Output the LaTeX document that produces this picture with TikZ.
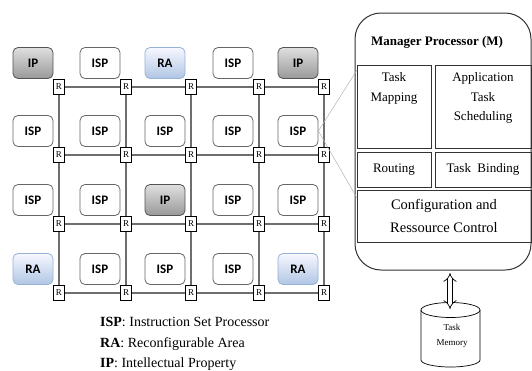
\documentclass[tikz,border=0pt]{standalone}
\usepackage{fontspec}
\setmainfont{Liberation Serif}
\newfontfamily\tilefont{Carlito}
\usetikzlibrary{arrows.meta,backgrounds}
\definecolor{rafill}{RGB}{176,198,228}
\definecolor{raborder}{RGB}{150,178,214}
\definecolor{linkgray}{RGB}{110,110,110}
\begin{document}
\begin{tikzpicture}[x=1pt,y=-1pt,
  tile/.style={rounded corners=5pt, minimum width=40pt, minimum height=31pt, inner sep=0pt,
    font=\tilefont\bfseries\fontsize{13}{15}\selectfont, line width=0.8pt},
  isp/.style={tile, draw=gray!80!black, fill=white},
  ipt/.style={tile, draw=gray!65!black, top color=gray!25, bottom color=gray!80},
  rat/.style={tile, draw=raborder, top color=blue!3, bottom color=rafill},
  router/.style={draw=black, fill=white, minimum width=11pt, minimum height=15pt, inner sep=0pt,
    font=\fontsize{9}{9}\selectfont, line width=0.8pt},
  link/.style={draw=linkgray, line width=1.1pt},
  pane/.style={draw=black!80, line width=0.8pt, inner sep=0pt},
  panetext/.style={font=\fontsize{13}{19.5}\selectfont, align=center, inner sep=0pt},
  zoomline/.style={draw=gray!60, line width=0.5pt},
  legend/.style={font=\fontsize{14}{16}\selectfont, anchor=west, inner sep=0pt}]
\useasboundingbox (0,0) rectangle (532,370);

% routers
\foreach \c [count=\i] in {59,126,191,259,324}{
  \foreach \r [count=\j] in {87,155,224,293}{
    \node[router] (r-\i-\j) at (\c,\r) {R};
  }
}
% links
\begin{scope}[on background layer]
\foreach \j in {1,...,4}{
  \foreach \i [evaluate=\i as \n using int(\i+1)] in {1,...,4}{
    \draw[link] (r-\i-\j) -- (r-\n-\j);
  }
}
\foreach \i in {1,...,5}{
  \foreach \j [evaluate=\j as \n using int(\j+1)] in {1,...,3}{
    \draw[link] (r-\i-\j) -- (r-\i-\n);
  }
}
\end{scope}

% tiles
\foreach \typ/\txt [count=\k from 0] in {
  ipt/IP, isp/ISP, rat/RA, isp/ISP, ipt/IP,
  isp/ISP, isp/ISP, isp/ISP, isp/ISP, isp/ISP,
  isp/ISP, isp/ISP, ipt/IP, isp/ISP, isp/ISP,
  rat/RA, isp/ISP, isp/ISP, isp/ISP, rat/RA}{
  \pgfmathtruncatemacro\ci{mod(\k,5)+1}
  \pgfmathtruncatemacro\rj{div(\k,5)+1}
  \node[\typ] (t-\ci-\rj) at ([xshift=-26pt,yshift=24pt]r-\ci-\rj.center) {\txt};
}

% manager processor
\node[draw=black!80, line width=1pt, rounded corners=26pt, minimum width=176pt, minimum height=257pt, inner sep=0pt] (mgr) at (443,141.5) {};
\node[font=\bfseries\fontsize{13}{15}\selectfont, inner sep=0pt] (title) at (437,42) {Manager Processor (M)};

\node[pane, minimum width=74pt, minimum height=83pt] (tm) at (394,106.5) {};
\node[pane, minimum width=96pt, minimum height=83pt] (ats) at (483,106.5) {};
\node[pane, minimum width=74pt, minimum height=35pt] (rt) at (394,169.5) {};
\node[pane, minimum width=96pt, minimum height=35pt] (tb) at (483,169.5) {};
\node[pane, minimum width=174pt, minimum height=52pt] (cfg) at (444,216) {};

\node[panetext, anchor=north] (tmt) at ([yshift=-8pt]tm.north) {Task\\Mapping};
\node[panetext, anchor=north] (atst) at ([yshift=-8pt]ats.north) {Application\\Task\\Scheduling};
\node[panetext] (rtt) at (rt.center) {Routing};
\node[panetext] (tbt) at (tb.center) {Task\ \ Binding};
\node[panetext, font=\fontsize{14.5}{23}\selectfont] (cfgt) at (cfg.center) {Configuration and\\Ressource Control};

% zoom lines from the ISP tile
\coordinate (zu) at (357,70);
\coordinate (zd) at (357,198);
\draw[zoomline] (t-5-2.east) -- (zu);
\draw[zoomline] (t-5-2.east) -- (zd);

% task memory
\draw[line width=0.7pt, fill=white] (421,310) -- (421,360) arc[start angle=180, end angle=0, x radius=29.5, y radius=7] -- (480,310);
\draw[line width=0.7pt, fill=white] (450.5,310) ellipse[x radius=29.5, y radius=7.5];
\node[font=\fontsize{9}{15}\selectfont, align=center, inner sep=0pt] (mem) at (452,336) {Task\\Memory};
\coordinate (a1) at (450,273);
\coordinate (a2) at (450,309);
\draw[{Implies[scale=1.3]}-{Implies[scale=1.3]}, double, double distance=4pt, line width=0.7pt] (a1) -- (a2);

% legend
\node[legend] (l1) at (100,322) {\textbf{ISP}: Instruction Set Processor};
\node[legend] (l2) at (100,344) {\textbf{RA}: Reconfigurable Area};
\node[legend] (l3) at (100,364) {\textbf{IP}: Intellectual Property};
\end{tikzpicture}
\end{document}
